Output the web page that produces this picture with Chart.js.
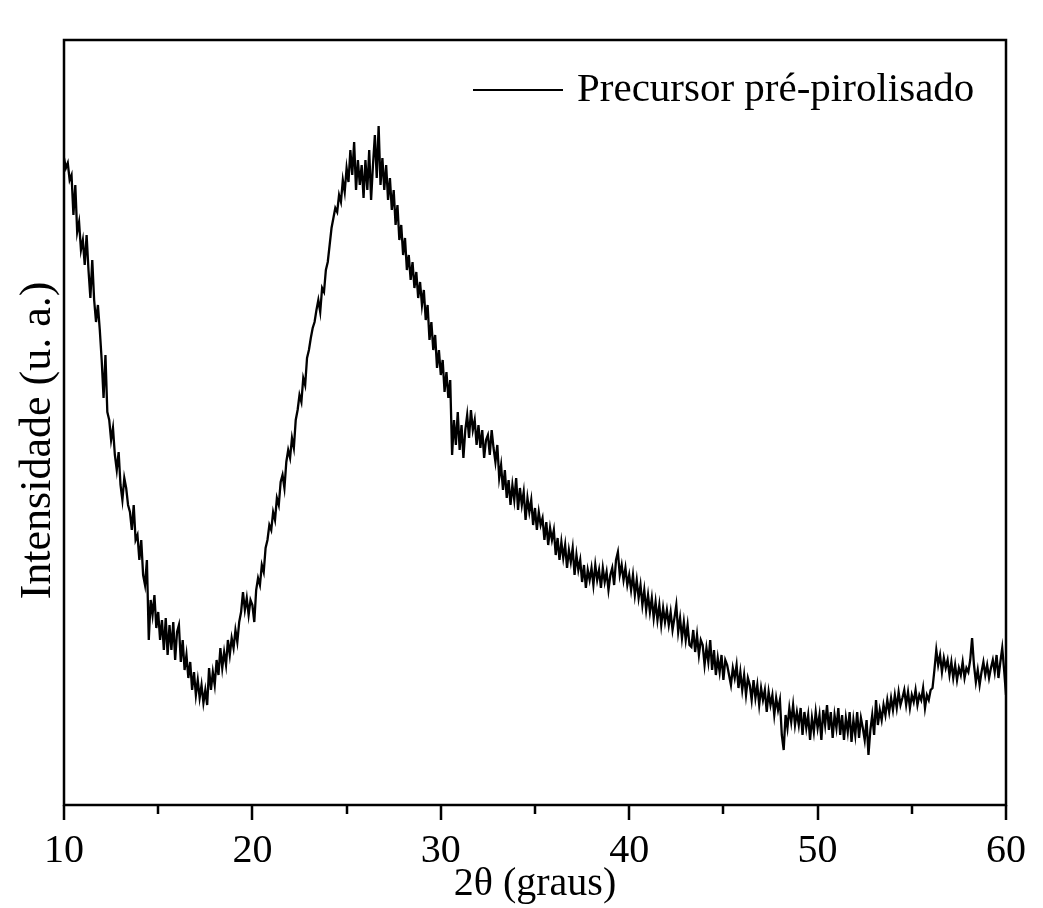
<!DOCTYPE html>
<html>
<head>
<meta charset="utf-8">
<script src="https://cdn.jsdelivr.net/npm/chart.js@4.4.1/dist/chart.umd.min.js"></script>
<style>
html,body{margin:0;padding:0;background:#fff;}
#wrap{width:1043px;height:908px;}
</style>
</head>
<body>
<div id="wrap"><canvas id="c" width="1043" height="908"></canvas></div>
<script>
const seriesLabel = "Precursor pré-pirolisado";
const xTitle = "2θ (graus)";
const yTitle = "Intensidade (u. a.)";
const xTicks = [10, 20, 30, 40, 50, 60];
const xMinorTicks = [15, 25, 35, 45, 55];

const angles = [
10,10.1,10.2,10.3,10.4,10.5,10.6,10.7,10.8,10.9,
11,11.1,11.2,11.3,11.4,11.5,11.6,11.7,11.8,11.9,
12,12.1,12.2,12.3,12.4,12.5,12.6,12.7,12.8,12.9,
13,13.1,13.2,13.3,13.4,13.5,13.6,13.7,13.8,13.9,
14,14.1,14.2,14.3,14.4,14.5,14.6,14.7,14.8,14.9,
15,15.1,15.2,15.3,15.4,15.5,15.6,15.7,15.8,15.9,
16,16.1,16.2,16.3,16.4,16.5,16.6,16.7,16.8,16.9,
17,17.1,17.2,17.3,17.4,17.5,17.6,17.7,17.8,17.9,
18,18.1,18.2,18.3,18.4,18.5,18.6,18.7,18.8,18.9,
19,19.1,19.2,19.3,19.4,19.5,19.6,19.7,19.8,19.9,
20,20.1,20.2,20.3,20.4,20.5,20.6,20.7,20.8,20.9,
21,21.1,21.2,21.3,21.4,21.5,21.6,21.7,21.8,21.9,
22,22.1,22.2,22.3,22.4,22.5,22.6,22.7,22.8,22.9,
23,23.1,23.2,23.3,23.4,23.5,23.6,23.7,23.8,23.9,
24,24.1,24.2,24.3,24.4,24.5,24.6,24.7,24.8,24.9,
25,25.1,25.2,25.3,25.4,25.5,25.6,25.7,25.8,25.9,
26,26.1,26.2,26.3,26.4,26.5,26.6,26.7,26.8,26.9,
27,27.1,27.2,27.3,27.4,27.5,27.6,27.7,27.8,27.9,
28,28.1,28.2,28.3,28.4,28.5,28.6,28.7,28.8,28.9,
29,29.1,29.2,29.3,29.4,29.5,29.6,29.7,29.8,29.9,
30,30.1,30.2,30.3,30.4,30.5,30.6,30.7,30.8,30.9,
31,31.1,31.2,31.3,31.4,31.5,31.6,31.7,31.8,31.9,
32,32.1,32.2,32.3,32.4,32.5,32.6,32.7,32.8,32.9,
33,33.1,33.2,33.3,33.4,33.5,33.6,33.7,33.8,33.9,
34,34.1,34.2,34.3,34.4,34.5,34.6,34.7,34.8,34.9,
35,35.1,35.2,35.3,35.4,35.5,35.6,35.7,35.8,35.9,
36,36.1,36.2,36.3,36.4,36.5,36.6,36.7,36.8,36.9,
37,37.1,37.2,37.3,37.4,37.5,37.6,37.7,37.8,37.9,
38,38.1,38.2,38.3,38.4,38.5,38.6,38.7,38.8,38.9,
39,39.1,39.2,39.3,39.4,39.5,39.6,39.7,39.8,39.9,
40,40.1,40.2,40.3,40.4,40.5,40.6,40.7,40.8,40.9,
41,41.1,41.2,41.3,41.4,41.5,41.6,41.7,41.8,41.9,
42,42.1,42.2,42.3,42.4,42.5,42.6,42.7,42.8,42.9,
43,43.1,43.2,43.3,43.4,43.5,43.6,43.7,43.8,43.9,
44,44.1,44.2,44.3,44.4,44.5,44.6,44.7,44.8,44.9,
45,45.1,45.2,45.3,45.4,45.5,45.6,45.7,45.8,45.9,
46,46.1,46.2,46.3,46.4,46.5,46.6,46.7,46.8,46.9,
47,47.1,47.2,47.3,47.4,47.5,47.6,47.7,47.8,47.9,
48,48.1,48.2,48.3,48.4,48.5,48.6,48.7,48.8,48.9,
49,49.1,49.2,49.3,49.4,49.5,49.6,49.7,49.8,49.9,
50,50.1,50.2,50.3,50.4,50.5,50.6,50.7,50.8,50.9,
51,51.1,51.2,51.3,51.4,51.5,51.6,51.7,51.8,51.9,
52,52.1,52.2,52.3,52.4,52.5,52.6,52.7,52.8,52.9,
53,53.1,53.2,53.3,53.4,53.5,53.6,53.7,53.8,53.9,
54,54.1,54.2,54.3,54.4,54.5,54.6,54.7,54.8,54.9,
55,55.1,55.2,55.3,55.4,55.5,55.6,55.7,55.8,55.9,
56,56.1,56.2,56.3,56.4,56.5,56.6,56.7,56.8,56.9,
57,57.1,57.2,57.3,57.4,57.5,57.6,57.7,57.8,57.9,
58,58.1,58.2,58.3,58.4,58.5,58.6,58.7,58.8,58.9,
59,59.1,59.2,59.3,59.4,59.5,59.6,59.7,59.8,59.9,
60];

const intensity = [
647,637,642,625,630,590,620,573,583,555,
565,540,570,535,507,545,505,483,500,475,
445,407,450,393,385,365,377,350,335,353,
320,305,327,317,300,293,275,300,265,270,
245,265,230,220,245,165,205,190,210,177,
193,165,185,155,187,150,180,155,183,145,
173,180,143,165,135,150,127,143,115,133,
110,125,107,120,102,115,100,137,115,133,
120,145,130,157,137,153,140,165,150,167,
157,175,163,183,193,213,195,207,190,205,
200,183,215,227,220,240,233,257,265,280,
275,293,285,307,300,323,330,317,343,355,
347,367,357,385,395,410,403,427,420,447,
455,467,477,483,495,505,493,517,513,535,
543,560,577,587,597,593,610,603,625,613,
637,623,655,630,663,615,645,620,640,607,
645,615,655,605,640,670,627,679,620,647,
615,640,605,627,595,615,580,600,565,580,
550,567,535,550,525,543,517,533,507,523,
500,515,485,500,465,483,455,470,437,455,
430,445,413,433,407,425,350,385,360,393,
355,380,347,375,390,367,395,375,385,360,
380,357,375,347,365,370,350,375,357,343,
360,327,340,315,335,307,325,300,320,305,
327,295,317,300,313,285,307,293,305,280,
297,275,293,280,287,265,283,260,277,265,
275,250,267,245,263,247,260,237,255,243,
257,230,250,235,245,223,240,217,235,225,
237,220,240,225,235,217,237,223,233,215,
230,237,220,245,253,230,240,225,237,220,
230,215,230,210,225,207,220,200,215,195,
210,193,207,187,203,185,200,180,197,183,
195,180,193,175,187,200,173,187,167,183,
165,180,160,158,175,153,170,150,165,160,
140,157,143,165,135,155,130,147,133,150,
125,145,140,130,120,137,127,140,117,133,
115,130,110,127,120,105,125,107,120,100,
117,105,115,93,113,100,110,90,107,95,
105,70,55,90,77,97,83,100,80,93,
80,97,70,93,77,90,65,87,73,93,
77,90,65,95,80,100,75,93,67,90,
77,97,70,90,65,87,73,93,63,85,
70,93,67,87,77,65,85,50,75,90,
70,105,80,95,85,100,90,105,93,107,
95,110,97,113,100,107,115,100,113,97,
110,103,115,100,110,105,117,97,110,105,
115,117,135,155,140,150,133,147,137,145,
130,143,127,140,125,137,130,143,127,137,
133,145,167,140,123,135,120,133,143,130,
140,127,137,145,133,150,127,143,157,135,
110];

const yMin = 0;
const yMax = 765;
const serif = '"Liberation Serif", "Times New Roman", serif';

const frame = {
  id: 'frame',
  afterDraw(chart) {
    const ctx = chart.ctx;
    const a = chart.chartArea;
    const xs = chart.scales.x;
    ctx.save();
    ctx.strokeStyle = '#000';
    ctx.lineWidth = 2.5;
    ctx.strokeRect(a.left, a.top, a.right - a.left, a.bottom - a.top);
    ctx.beginPath();
    xTicks.forEach(v => {
      const px = Math.round(xs.getPixelForValue(v));
      ctx.moveTo(px, a.bottom);
      ctx.lineTo(px, a.bottom + 15);
    });
    xMinorTicks.forEach(v => {
      const px = Math.round(xs.getPixelForValue(v));
      ctx.moveTo(px, a.bottom);
      ctx.lineTo(px, a.bottom + 9);
    });
    ctx.stroke();
    // y axis title
    ctx.fillStyle = '#000';
    ctx.save();
    ctx.translate(a.left - 26, (a.top + a.bottom) / 2 + 18);
    ctx.rotate(-Math.PI / 2);
    ctx.font = '44px ' + serif;
    ctx.textAlign = 'center';
    ctx.textBaseline = 'middle';
    ctx.fillText(yTitle, 0, 0);
    ctx.restore();
    // legend
    const ly = a.top + 50;
    const textX = a.right - 429;
    ctx.lineWidth = 2;
    ctx.beginPath();
    ctx.moveTo(textX - 104, ly);
    ctx.lineTo(textX - 14, ly);
    ctx.stroke();
    ctx.font = '41px ' + serif;
    ctx.textBaseline = 'middle';
    ctx.textAlign = 'left';
    ctx.fillText(chart.data.datasets[0].label, textX, ly);
    ctx.restore();
  }
};

new Chart(document.getElementById('c'), {
  type: 'line',
  data: {
    datasets: [{
      label: seriesLabel,
      data: angles.map((a, i) => ({x: a, y: intensity[i]})),
      borderColor: '#000',
      borderWidth: 2.3,
      pointRadius: 0,
      tension: 0,
      fill: false
    }]
  },
  options: {
    responsive: false,
    animation: false,
    layout: {padding: {top: 40, right: 37, left: 0, bottom: 0}},
    plugins: {legend: {display: false}, tooltip: {enabled: false}},
    scales: {
      x: {
        type: 'linear',
        min: 10, max: 60,
        afterFit(s) { s.height = 103; s.paddingLeft = 0; s.paddingRight = 0; },
        grid: {display: false, drawTicks: false},
        border: {display: false},
        ticks: {
          stepSize: 10,
          color: '#000',
          padding: 22,
          font: {family: serif, size: 40},
          maxRotation: 0
        },
        title: {
          display: true,
          text: xTitle,
          color: '#000',
          font: {family: serif, size: 40},
          padding: {top: 0, bottom: 0}
        }
      },
      y: {
        min: yMin, max: yMax,
        afterFit(s) { s.width = 64; s.paddingTop = 0; s.paddingBottom = 0; },
        grid: {display: false, drawTicks: false},
        border: {display: false},
        ticks: {display: false},
        title: {display: false}
      }
    }
  },
  plugins: [frame]
});
</script>
</body>
</html>
